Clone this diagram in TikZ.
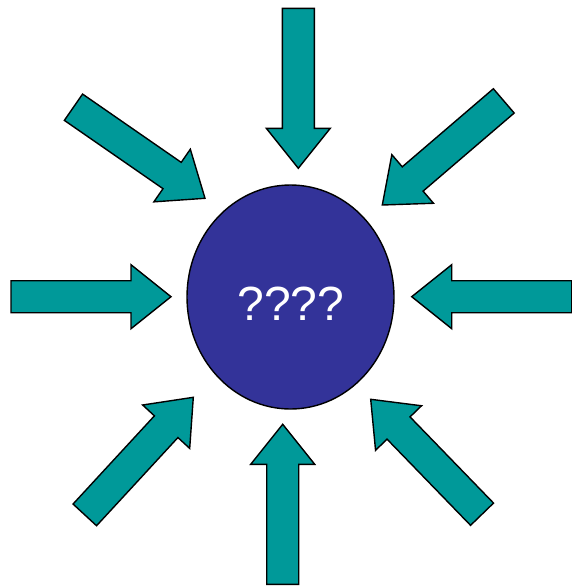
\documentclass[tikz,border=0pt]{standalone}
\usepackage{fontspec}
\setmainfont{Liberation Sans}
\usetikzlibrary{shapes.geometric}
\definecolor{arrteal}{HTML}{009999}
\definecolor{ballblue}{HTML}{333399}
\begin{document}
\begin{tikzpicture}[x=1pt,y=1pt,
  arrowbody/.style={fill=arrteal,draw=black,line width=1.4pt,line join=miter},
  blockarr/.pic={\draw[arrowbody] (0,0) -- (-40,32) -- (-40,16) -- (-160,16) -- (-160,-16) -- (-40,-16) -- (-40,-32) -- cycle;},
  ball/.style={ellipse,fill=ballblue,draw=black,line width=1.4pt,minimum width=207pt,minimum height=224pt,inner sep=0pt},
  qlabel/.style={text=white,font=\fontsize{48}{48}\selectfont}]
\useasboundingbox (0,0) rectangle (571,-587);
\node[ball] (center) at (290.5,-297) {};
\node[qlabel] (qmarks) at (291,-304) {????};
\pic[rotate=-90] (top) at (298.3,-168.3) {blockarr};
\pic[rotate=90] (bottom) at (282.7,-424.3) {blockarr};
\pic[rotate=0] (left) at (171,-296.7) {blockarr};
\pic[rotate=180] (right) at (411.7,-296.7) {blockarr};
\pic[rotate=-34.7] (topleft) at (205,-198.3) {blockarr};
\pic[rotate=220.6] (topright) at (382.3,-205) {blockarr};
\pic[rotate=47.3] (bottomleft) at (193.3,-397.3) {blockarr};
\pic[rotate=134.1] (bottomright) at (370.7,-399.3) {blockarr};
\end{tikzpicture}
\end{document}
